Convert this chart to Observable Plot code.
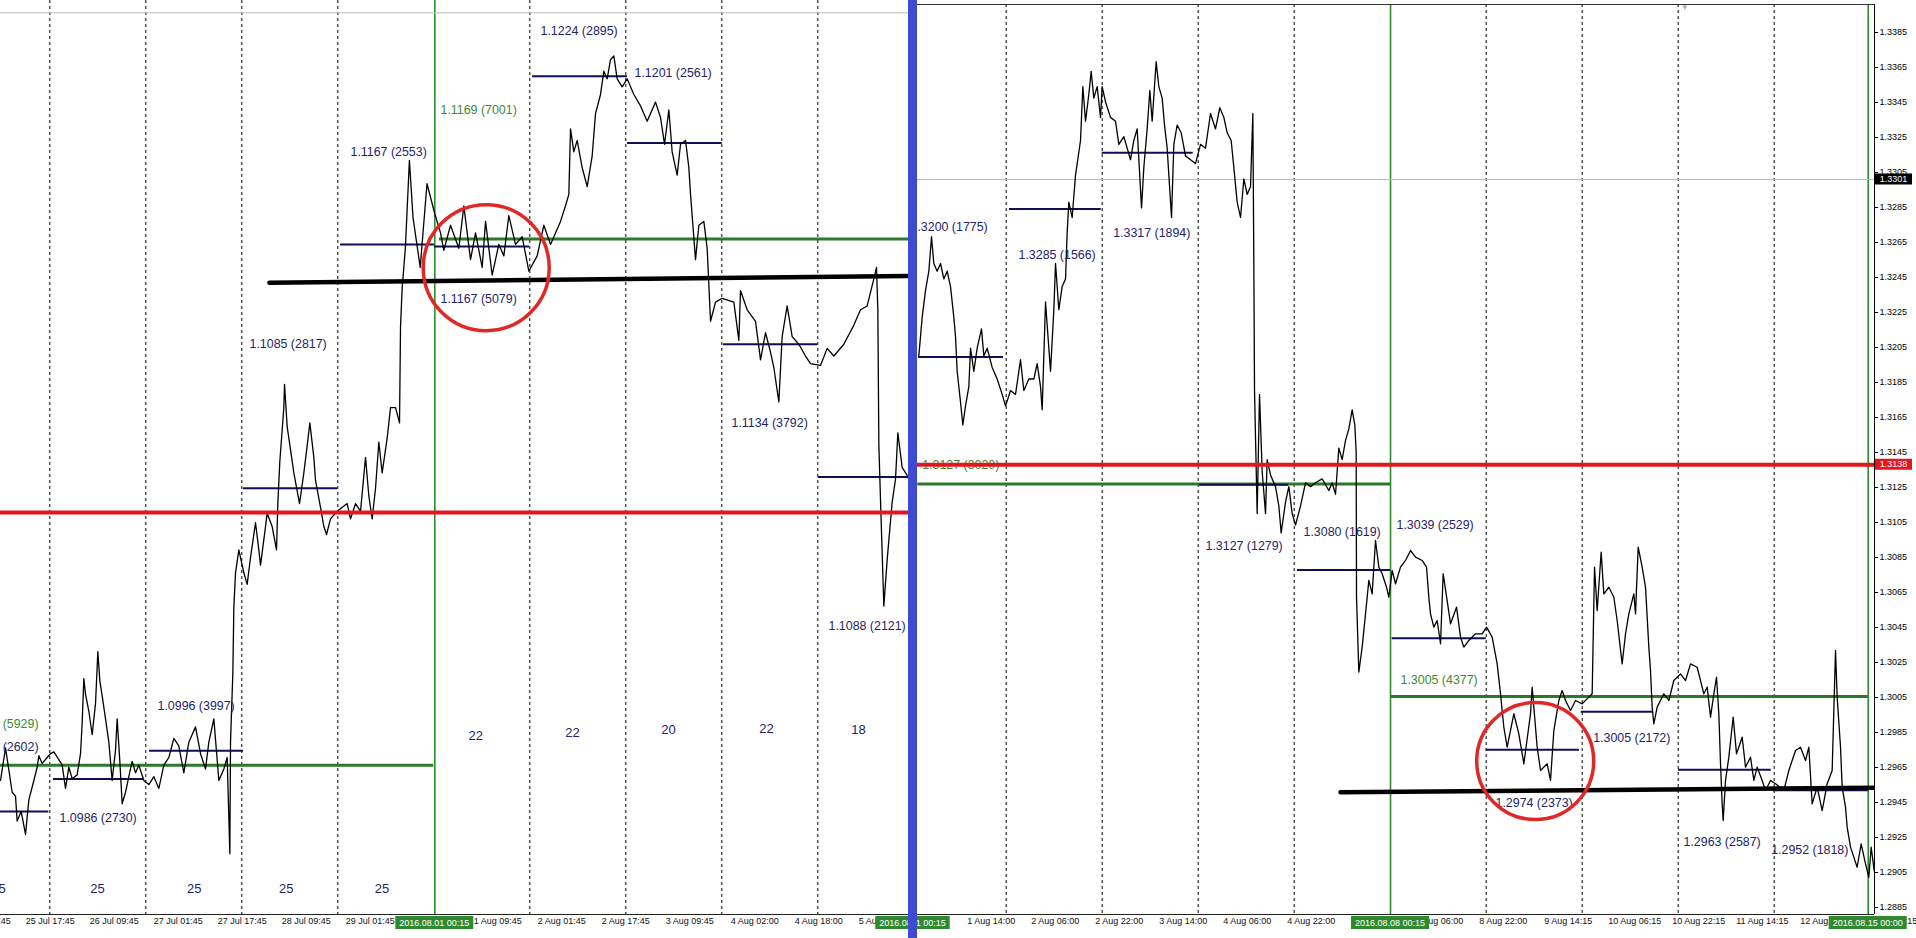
<!DOCTYPE html>
<html><head><meta charset="utf-8">
<script src="https://cdn.jsdelivr.net/npm/d3@7"></script>
<script src="https://cdn.jsdelivr.net/npm/@observablehq/plot@0.6"></script>
<style>
html,body{margin:0;padding:0;background:#fff;overflow:hidden}
#wrap{position:relative;width:1916px;height:938px;overflow:hidden;background:#fff}
#left{position:absolute;left:0;top:0}
#right{position:absolute;left:917px;top:0}
#bar{position:absolute;left:908px;top:0;width:9px;height:938px;background:#3e4ad0;z-index:5}
</style></head>
<body><div id="wrap"><div id="left"></div><div id="bar"></div><div id="right"></div></div>
<script>
// ---------- LEFT PANEL (EURUSD, x = trading hours since 25 Jul 00:00) ----------
const leftPath = [[11.68,1.09850],[12.93,1.09961],[14.59,1.09810],[15.43,1.09797],[15.84,1.09712],[16.84,1.09745],[17.93,1.09667],[18.76,1.09784],[20.01,1.09850],[20.84,1.09895],[21.26,1.09934],[22.09,1.09908],[23.34,1.09928],[24.18,1.09941],[25.01,1.09947],[26.26,1.09921],[27.09,1.09902],[27.93,1.09823],[28.76,1.09895],[29.59,1.09856],[30.84,1.09869],[31.68,1.09941],[32.09,1.10045],[32.51,1.10196],[32.93,1.10143],[33.76,1.10085],[34.59,1.10006],[35.43,1.10111],[36.01,1.10287],[36.51,1.10189],[37.09,1.10137],[37.93,1.10059],[38.76,1.09980],[39.59,1.09850],[40.43,1.09954],[40.84,1.10059],[41.51,1.09915],[42.09,1.09771],[42.93,1.09810],[43.76,1.09863],[44.59,1.09915],[45.43,1.09876],[46.26,1.09902],[47.51,1.09850],[48.76,1.09836],[50.01,1.09863],[51.26,1.09823],[52.51,1.09902],[53.76,1.09928],[55.01,1.09993],[56.26,1.09967],[57.51,1.09876],[58.76,1.09980],[60.43,1.10032],[61.68,1.09941],[62.93,1.09889],[63.76,1.09980],[65.01,1.10059],[66.26,1.09850],[67.51,1.09889],[68.34,1.09928],[69.01,1.09601],[69.18,1.09980],[69.76,1.10215],[70.01,1.10437],[70.43,1.10555],[71.26,1.10633],[72.51,1.10555],[73.34,1.10516],[74.18,1.10607],[75.43,1.10725],[76.26,1.10633],[76.68,1.10581],[77.93,1.10712],[78.34,1.10757],[79.59,1.10712],[80.68,1.10633],[81.01,1.10790],[81.51,1.10934],[82.51,1.11116],[82.68,1.11195],[83.34,1.11051],[84.18,1.10973],[85.01,1.10894],[86.43,1.10790],[87.51,1.10894],[88.34,1.10986],[89.01,1.11064],[90.01,1.10947],[90.43,1.10868],[91.51,1.10790],[92.51,1.10712],[93.18,1.10685],[94.18,1.10738],[95.84,1.10764],[98.34,1.10790],[99.18,1.10738],[100.43,1.10790],[101.68,1.10764],[102.93,1.10947],[103.76,1.10816],[104.59,1.10738],[105.43,1.10842],[106.26,1.10999],[107.09,1.10894],[108.34,1.11012],[109.18,1.11116],[110.43,1.11116],[111.43,1.11064],[111.68,1.11391],[112.09,1.11521],[112.9,1.11660],[113.9,1.11955],[114.8,1.11762],[116.6,1.11592],[118.3,1.11876],[120.25,1.11774],[121.68,1.11709],[122.51,1.11650],[124.18,1.11735],[126.26,1.11657],[127.51,1.11801],[129.18,1.11618],[130.43,1.11709],[132.09,1.11592],[132.93,1.11748],[134.59,1.11566],[136.26,1.11670],[137.51,1.11631],[138.76,1.11768],[140.43,1.11670],[142.09,1.11696],[143.76,1.11579],[145.84,1.11631],[147.51,1.11735],[149.18,1.11670],[150.43,1.11709],[151.68,1.11748],[152.93,1.11801],[153.76,1.11840],[154.18,1.12062],[155.01,1.11984],[155.84,1.12023],[157.09,1.11931],[158.34,1.11866],[159.59,1.11970],[160.43,1.12114],[161.68,1.12179],[162.51,1.12258],[163.34,1.12232],[164.18,1.12297],[165.01,1.12310],[165.84,1.12232],[167.09,1.12205],[168.34,1.12232],[170.01,1.12179],[171.68,1.12140],[173.34,1.12088],[175.43,1.12153],[176.68,1.12101],[177.68,1.12010],[178.76,1.12127],[179.59,1.11984],[180.84,1.11905],[181.68,1.12010],[182.93,1.12023],[183.76,1.11931],[184.18,1.11840],[185.43,1.11618],[186.26,1.11735],[187.51,1.11748],[188.34,1.11657],[189.18,1.11409],[190.43,1.11474],[192.09,1.11487],[195.01,1.11474],[196.26,1.11344],[196.68,1.11513],[198.34,1.11448],[200.43,1.11409],[201.68,1.11278],[202.93,1.11370],[204.18,1.11304],[205.01,1.11252],[206.26,1.11135],[207.09,1.11357],[208.34,1.11461],[209.59,1.11357],[211.26,1.11331],[212.93,1.11291],[214.18,1.11265],[216.68,1.11259],[218.34,1.11317],[220.01,1.11291],[222.51,1.11331],[225.01,1.11396],[226.68,1.11448],[228.34,1.11461],[230.01,1.11553],[230.68,1.11592],[231.01,1.11448],[231.26,1.10991],[231.84,1.10730],[232.51,1.10442],[233.34,1.10599],[234.59,1.10795],[235.43,1.10873],[236.01,1.11030],[237.09,1.10913],[238.34,1.10886],[239.59,1.10847]];

const leftSegments = [{h1:11.68,h2:23.75,p:1.09745},{h1:24.93,h2:47.68,p:1.09855},{h1:48.93,h2:72.43,p:1.09951},{h1:72.43,h2:95.93,p:1.10842},{h1:96.68,h2:120.18,p:1.11670},{h1:120.18,h2:143.93,p:1.11663},{h1:144.68,h2:168.43,p:1.12241},{h1:168.43,h2:192.1,p:1.12014},{h1:192.43,h2:215.93,p:1.11331},{h1:216.18,h2:239.68,p:1.10880}];
const leftWeekLevels = [{h1:11.68,h2:120.0,p:1.09902},{h1:121.4,h2:239.7,p:1.11688}];
const leftTrend = [[78.9,1.11540],[239.7,1.11563]];
const leftRedLevel = [1.10760];
const leftBidLevel = [1.12456];
const leftCircle = [{h:133.1,p:1.11591}];
const leftGrid = [24,48,72,96,144,168,192,216];
const leftWeekStarts = [120.25];
const leftLabels = [
  {h:146.68,p:1.12394,t:"1.1224 (2895)",k:"navy",a:"start"},
  {h:170.18,p:1.12251,t:"1.1201 (2561)",k:"navy",a:"start"},
  {h:121.68,p:1.12127,t:"1.1169 (7001)",k:"green",a:"start"},
  {h:99.18,p:1.11983,t:"1.1167 (2553)",k:"navy",a:"start"},
  {h:121.68,p:1.11483,t:"1.1167 (5079)",k:"navy",a:"start"},
  {h:73.93,p:1.11333,t:"1.1085 (2817)",k:"navy",a:"start"},
  {h:50.93,p:1.10104,t:"1.0996 (3997)",k:"navy",a:"start"},
  {h:26.43,p:1.09722,t:"1.0986 (2730)",k:"navy",a:"start"},
  {h:21.18,p:1.10040,t:"1.0990 (5929)",k:"green",a:"end"},
  {h:21.18,p:1.09963,t:"1.0975 (2602)",k:"navy",a:"end"},
  {h:194.43,p:1.11062,t:"1.1134 (3792)",k:"navy",a:"start"},
  {h:218.68,p:1.10376,t:"1.1088 (2121)",k:"navy",a:"start"}
];
const leftCounts = [
  {h:11.2,p:1.09483,t:"25"},{h:35.9,p:1.09483,t:"25"},{h:60.1,p:1.09483,t:"25"},{h:83.1,p:1.09483,t:"25"},{h:107.05,p:1.09483,t:"25"},
  {h:130.5,p:1.10000,t:"22"},{h:154.7,p:1.10013,t:"22"},{h:178.7,p:1.10023,t:"20"},{h:203.2,p:1.10026,t:"22"},{h:226.2,p:1.10023,t:"18"}
];
const leftTimeTicks = [1.75,17.75,33.75,49.75,65.75,81.75,97.75,113.75,129.75,145.75,161.75,177.75,194,210,226];
const leftTimeText = ["25 Jul 01:45","25 Jul 17:45","26 Jul 09:45","27 Jul 01:45","27 Jul 17:45","28 Jul 09:45","29 Jul 01:45","29 Jul 17:45","1 Aug 09:45","2 Aug 01:45","2 Aug 17:45","3 Aug 09:45","4 Aug 02:00","4 Aug 18:00","5 Aug 10:00"];
const leftBoxes = [{h:120.25,t:"2016.08.01 00:15"},{h:240.25,t:"2016.08.08 00:15"}];

// ---------- RIGHT PANEL (GBPUSD, x = trading hours since 1 Aug 00:00) ----------
const rightPath = [[2.16,1.32002],[2.99,1.32222],[3.83,1.32376],[4.66,1.32486],[5.33,1.32683],[5.91,1.32530],[6.74,1.32486],[7.58,1.32530],[8.41,1.32442],[9.24,1.32486],[10.08,1.32398],[10.91,1.32222],[11.33,1.32112],[11.74,1.31914],[12.58,1.31738],[13.16,1.31607],[13.83,1.31716],[14.66,1.31826],[15.08,1.32046],[15.91,1.31914],[16.74,1.32046],[17.83,1.32156],[18.41,1.32002],[19.24,1.32046],[20.49,1.31936],[21.74,1.31870],[22.99,1.31782],[23.83,1.31716],[25.08,1.31804],[26.33,1.31782],[27.58,1.31980],[28.41,1.31804],[29.66,1.31870],[30.91,1.31870],[31.74,1.31958],[32.58,1.31826],[32.99,1.31694],[33.83,1.32310],[34.66,1.32046],[35.08,1.31914],[35.91,1.32266],[36.33,1.32530],[37.16,1.32266],[37.99,1.32398],[38.83,1.32442],[39.24,1.32705],[39.66,1.32881],[40.49,1.32793],[41.33,1.33035],[42.58,1.33233],[43.16,1.33541],[43.83,1.33343],[44.66,1.33497],[45.24,1.33628],[45.91,1.33475],[46.74,1.33541],[47.58,1.33365],[47.99,1.33541],[48.83,1.33453],[50.08,1.33365],[51.33,1.33343],[52.16,1.33211],[53.41,1.33255],[55.08,1.33123],[55.91,1.33233],[56.74,1.33299],[57.83,1.32848],[58.41,1.33079],[59.24,1.33299],[59.91,1.33519],[60.49,1.33343],[61.49,1.33683],[62.16,1.33541],[62.99,1.33475],[63.58,1.33321],[64.24,1.33189],[65.33,1.32793],[65.91,1.33211],[66.74,1.33321],[67.74,1.33277],[68.83,1.33145],[70.08,1.33123],[71.33,1.33101],[72.58,1.33211],[73.83,1.33189],[75.08,1.33387],[76.33,1.33299],[77.41,1.33420],[78.41,1.33365],[79.24,1.33277],[80.24,1.33233],[80.91,1.33079],[81.74,1.32881],[82.58,1.32793],[83.41,1.33013],[84.24,1.32925],[85.08,1.32969],[85.66,1.33387],[85.91,1.32530],[86.08,1.31804],[86.74,1.31101],[87.33,1.31782],[87.99,1.31343],[88.83,1.31101],[89.24,1.31409],[90.08,1.31321],[91.33,1.31255],[92.16,1.31145],[92.74,1.30991],[93.83,1.31167],[94.66,1.31255],[95.49,1.31101],[96.33,1.31035],[97.58,1.31145],[98.83,1.31277],[100.08,1.31255],[101.33,1.31277],[102.99,1.31299],[104.66,1.31233],[105.49,1.31277],[106.33,1.31211],[107.16,1.31475],[107.99,1.31409],[108.83,1.31519],[109.66,1.31585],[110.49,1.31694],[111.16,1.31607],[111.49,1.31453],[111.58,1.30623],[112.16,1.30195],[112.99,1.30338],[113.83,1.30528],[114.66,1.30719],[115.49,1.30642],[116.33,1.30947],[117.16,1.30795],[117.99,1.30757],[119.08,1.30680],[119.66,1.30623],[120.49,1.30776],[121.33,1.30700],[122.58,1.30795],[123.83,1.30833],[125.08,1.30890],[126.33,1.30852],[127.99,1.30833],[129.08,1.30795],[129.66,1.30623],[130.08,1.30528],[130.91,1.30452],[131.74,1.30490],[132.58,1.30357],[133.24,1.30757],[134.24,1.30604],[135.08,1.30471],[136.58,1.30566],[137.58,1.30395],[138.41,1.30338],[139.66,1.30376],[141.33,1.30414],[142.99,1.30414],[144.08,1.30452],[145.49,1.30395],[146.74,1.30242],[147.58,1.30071],[148.41,1.29880],[149.24,1.29766],[150.91,1.29957],[152.16,1.29842],[153.41,1.29671],[155.08,1.29957],[155.49,1.30109],[156.74,1.29766],[157.58,1.29633],[159.24,1.29671],[160.08,1.29576],[160.91,1.29861],[162.16,1.30033],[162.99,1.30090],[163.83,1.30033],[165.08,1.29976],[166.33,1.30033],[167.99,1.30014],[169.66,1.30052],[170.49,1.30071],[171.08,1.30795],[171.74,1.30547],[172.74,1.30880],[173.41,1.30642],[174.66,1.30680],[175.91,1.30623],[176.74,1.30490],[177.99,1.30242],[178.83,1.30414],[179.66,1.30528],[180.91,1.30642],[181.33,1.30528],[181.99,1.30909],[182.99,1.30795],[183.83,1.30680],[184.66,1.30338],[185.08,1.30204],[185.49,1.29995],[185.91,1.29899],[186.74,1.29995],[188.41,1.30071],[189.66,1.30033],[190.91,1.30147],[192.58,1.30185],[193.83,1.30147],[195.08,1.30242],[196.74,1.30223],[198.41,1.30071],[199.24,1.30109],[200.08,1.29938],[200.91,1.30071],[201.58,1.30166],[202.16,1.29957],[202.58,1.29671],[202.99,1.29442],[203.24,1.29347],[203.83,1.29576],[204.66,1.29709],[205.74,1.29938],[206.58,1.29728],[207.99,1.29823],[208.83,1.29652],[210.08,1.29709],[210.91,1.29576],[211.74,1.29652],[212.99,1.29576],[213.83,1.29519],[215.08,1.29576],[216.33,1.29557],[218.41,1.29519],[219.66,1.29633],[221.33,1.29747],[222.58,1.29766],[223.83,1.29690],[224.66,1.29766],[225.49,1.29442],[226.74,1.29538],[227.99,1.29404],[229.24,1.29557],[230.49,1.29633],[231.33,1.30319],[231.74,1.30052],[232.58,1.29766],[232.99,1.29538],[233.83,1.29423],[234.24,1.29309],[235.08,1.29195],[235.91,1.29138],[236.74,1.29080],[237.74,1.29214],[238.83,1.29099],[239.66,1.29023],[240.24,1.29195],[241.0,1.29061]];

const rightSegments = [{h1:2.08,h2:23.33,p:1.31996},{h1:24.83,h2:47.75,p:1.32841},{h1:48.0,h2:70.75,p:1.33163},{h1:72.33,h2:94.58,p:1.31266},{h1:96.83,h2:120.08,p:1.30778},{h1:120.5,h2:144.0,p:1.30389},{h1:144.0,h2:167.33,p:1.29751},{h1:167.75,h2:185.83,p:1.29969},{h1:192.08,h2:215.25,p:1.29637},{h1:215.83,h2:239.58,p:1.29520}];
const rightWeekLevels = [{h1:1.9,h2:120.08,p:1.31270},{h1:120.08,h2:239.5,p:1.30056}];
const rightTrend = [[107.58,1.29509],[241.0,1.29534]];
const rightRedLevel = [1.3138];
const rightBidLevel = [1.3301];
const rightCircle = [{h:156.25,p:1.29687}];
const rightGrid = [24,48,72,96,144,168,192,216];
const rightWeekStarts = [120.08,239.5];
const rightLabels = [
  {h:0.08,p:1.32739,t:"1.3200 (1775)",k:"navy",a:"start"},
  {h:27.08,p:1.32581,t:"1.3285 (1566)",k:"navy",a:"start"},
  {h:50.75,p:1.32705,t:"1.3317 (1894)",k:"navy",a:"start"},
  {h:3.0,p:1.31376,t:"1.3127 (3020)",k:"green",a:"start"},
  {h:73.83,p:1.30914,t:"1.3127 (1279)",k:"navy",a:"start"},
  {h:98.33,p:1.30996,t:"1.3080 (1619)",k:"navy",a:"start"},
  {h:121.58,p:1.31033,t:"1.3039 (2529)",k:"navy",a:"start"},
  {h:122.58,p:1.30147,t:"1.3005 (4377)",k:"green",a:"start"},
  {h:146.33,p:1.29446,t:"1.2974 (2373)",k:"navy",a:"start"},
  {h:170.75,p:1.29816,t:"1.3005 (2172)",k:"navy",a:"start"},
  {h:193.33,p:1.29223,t:"1.2963 (2587)",k:"navy",a:"start"},
  {h:215.25,p:1.29180,t:"1.2952 (1818)",k:"navy",a:"start"}
];
const rightTimeTicks = [14,30,46,62,78,94,110,126,142,158.25,174.25,190.25,206.25,222.25,238.25];
const rightTimeText = ["1 Aug 14:00","2 Aug 06:00","2 Aug 22:00","3 Aug 14:00","4 Aug 06:00","4 Aug 22:00","5 Aug 14:00","8 Aug 06:00","8 Aug 22:00","9 Aug 14:15","10 Aug 06:15","10 Aug 22:15","11 Aug 14:15","12 Aug 06:15","12 Aug 22:15"];
const rightBoxes = [{h:0.25,t:"2016.08.01 00:15"},{h:120.08,t:"2016.08.08 00:15"},{h:239.5,t:"2016.08.15 00:00"}];
const rightPriceTicks = [1.3385,1.3365,1.3345,1.3325,1.3305,1.3285,1.3265,1.3245,1.3225,1.3205,1.3185,1.3165,1.3145,1.3125,1.3105,1.3085,1.3065,1.3045,1.3025,1.3005,1.2985,1.2965,1.2945,1.2925,1.2905,1.2885];
const rightPriceBoxes = [{p:1.3301,t:"1.3301",k:"bid"},{p:1.3138,t:"1.3138",k:"red"}];
const rightMarker = [{h:193.6,p:1.33993,t:"▼"}];

// ---------- styles ----------
const FONT = "'Liberation Sans', Arial, sans-serif";
const C = {navy:"#23236a", green:"#3b8b30", seg:"#0f0f55", week:"#2b7a2b", red:"#e3161e",
           circle:"#e02828", boxGreen:"#2f8a2f", bid:"#000000", grid:"#000000", vline:"#2e8b2e"};

function xBoxes(items) {
  return (index, scales, values, dims) => {
    const sx = typeof scales.x === "function" ? scales.x : scales.scales.x.apply;
    const g = d3.create("svg:g").attr("font-family", FONT).attr("font-size", 9);
    const y0 = dims.height - dims.marginBottom + 2;
    for (const d of items) {
      const cx = sx(d.h), w = d.t.length * 4.75 + 2;
      g.append("rect").attr("x", cx - w / 2).attr("y", y0).attr("width", w).attr("height", 13).attr("fill", C.boxGreen);
      g.append("text").attr("x", cx).attr("y", y0 + 6.5).attr("dy", "0.35em")
        .attr("text-anchor", "middle").attr("fill", "#fff").text(d.t);
    }
    return g.node();
  };
}
function yBoxes(items) {
  return (index, scales, values, dims) => {
    const sy = typeof scales.y === "function" ? scales.y : scales.scales.y.apply;
    const g = d3.create("svg:g").attr("font-family", FONT).attr("font-size", 9);
    const x0 = dims.width - dims.marginRight + 1;
    for (const d of items) {
      const cy = sy(d.p);
      g.append("rect").attr("x", x0).attr("y", cy - 5.5).attr("width", 37).attr("height", 11)
        .attr("fill", d.k === "red" ? C.red : C.bid);
      g.append("text").attr("x", x0 + 18.5).attr("y", cy).attr("dy", "0.35em")
        .attr("text-anchor", "middle").attr("fill", "#fff").text(d.t);
    }
    return g.node();
  };
}

function levelText(labels, anchor) {
  return Plot.text(labels.filter(d => d.a === anchor), {x: "h", y: "p", text: "t", textAnchor: anchor,
    fill: d => d.k === "green" ? C.green : C.navy, fontSize: 12.4, fontFamily: FONT});
}

function panelMarks(cfg) {
  const path = cfg.path.map(([h, p]) => ({h, p}));
  const trend = cfg.trend.map(([h, p]) => ({h, p}));
  const ticks = cfg.timeTicks.map((h, i) => ({h, t: cfg.timeText[i]}));
  return [
    Plot.ruleX(cfg.grid, {stroke: C.grid, strokeWidth: 1, strokeDasharray: "3,3"}),
    Plot.ruleX(cfg.weekStarts, {stroke: C.vline, strokeWidth: 1.6}),
    Plot.ruleY(cfg.bid, {stroke: "#bdbdbd", strokeWidth: 1}),
    Plot.ruleY(cfg.weekLevels, {y: "p", x1: "h1", x2: "h2", stroke: C.week, strokeWidth: 3, clip: true}),
    Plot.ruleY(cfg.segments, {y: "p", x1: "h1", x2: "h2", stroke: C.seg, strokeWidth: 2, clip: true}),
    Plot.line(path, {x: "h", y: "p", stroke: "#000", strokeWidth: 1.3, clip: true}),
    levelText(cfg.labels, "start"),
    levelText(cfg.labels, "end"),
    Plot.ruleY(cfg.redLevel, {stroke: C.red, strokeWidth: 4}),
    Plot.line(trend, {x: "h", y: "p", stroke: "#000", strokeWidth: 4.5, clip: true}),
    Plot.dot(cfg.circle, {x: "h", y: "p", r: cfg.circleR, stroke: C.circle, strokeWidth: 3.5, fill: "none"}),
    Plot.ruleY([cfg.yDomain[0]], {stroke: "#222", strokeWidth: 1}),
    Plot.text(ticks, {x: "h", text: "t", frameAnchor: "bottom", dy: 9, dx: 1, textAnchor: "start",
      fontSize: 9, fill: "#111", fontFamily: FONT}),
    xBoxes(cfg.boxes)
  ];
}

const leftPlot = Plot.plot({
  width: 908, height: 938, marginTop: 0, marginBottom: 24, marginLeft: 0, marginRight: 0,
  style: {fontFamily: FONT, fontSize: "9px", background: "#fff", overflow: "hidden"},
  x: {domain: [11.675, 238.675], axis: null},
  y: {domain: [1.09395, 1.12498], axis: null},
  marks: [
    ...panelMarks({path: leftPath, trend: leftTrend, timeTicks: leftTimeTicks, timeText: leftTimeText,
      grid: leftGrid, weekStarts: leftWeekStarts, bid: leftBidLevel, weekLevels: leftWeekLevels,
      segments: leftSegments, labels: leftLabels, redLevel: leftRedLevel, circle: leftCircle, circleR: 63,
      yDomain: [1.09395, 1.12498], boxes: leftBoxes}),
    Plot.text(leftCounts, {x: "h", y: "p", text: "t", fontSize: 13, fill: C.navy, fontFamily: FONT})
  ]
});
document.getElementById("left").appendChild(leftPlot);

const rightPlot = Plot.plot({
  width: 999, height: 938, marginTop: 4, marginBottom: 24, marginLeft: 0, marginRight: 42,
  style: {fontFamily: FONT, fontSize: "9px", background: "#fff", overflow: "hidden"},
  x: {domain: [1.825, 241.075], axis: null},
  y: {domain: [1.2881, 1.3401], axis: "right", ticks: rightPriceTicks, tickFormat: d => d.toFixed(4),
      tickSize: 3, tickPadding: 2, label: null},
  marks: [
    ...panelMarks({path: rightPath, trend: rightTrend, timeTicks: rightTimeTicks, timeText: rightTimeText,
      grid: rightGrid, weekStarts: rightWeekStarts, bid: rightBidLevel, weekLevels: rightWeekLevels,
      segments: rightSegments, labels: rightLabels, redLevel: rightRedLevel, circle: rightCircle, circleR: 58.5,
      yDomain: [1.2881, 1.3401], boxes: rightBoxes}),
    Plot.ruleY([1.3401], {stroke: "#333", strokeWidth: 1}),
    Plot.ruleX([241.075], {stroke: "#000", strokeWidth: 1}),
    Plot.text(rightMarker, {x: "h", y: "p", text: "t", fontSize: 8, fill: "#b0b0b0"}),
    yBoxes(rightPriceBoxes)
  ]
});
document.getElementById("right").appendChild(rightPlot);
</script>
</body></html>
